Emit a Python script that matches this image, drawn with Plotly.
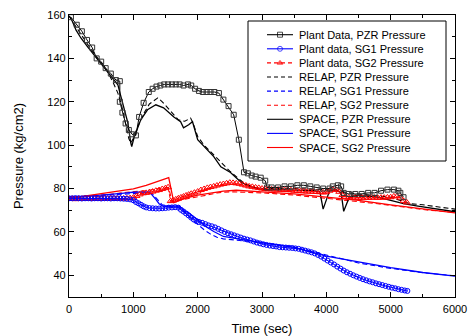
import plotly.graph_objects as go

# ---------------- data ----------------
plant_pzr_t = [30, 120, 200, 280, 360, 430, 500, 570, 650, 730, 790, 790, 830, 880, 930, 980, 1040,
               1090, 1160, 1240, 1300, 1360, 1420, 1480, 1540, 1600, 1660, 1720, 1780, 1850, 1900,
               1960, 2020, 2080, 2140, 2200, 2260, 2330, 2400, 2480, 2560, 2640, 2720, 2780, 2840,
               2900, 2980, 3050, 3080, 3150, 3250, 3350, 3450, 3550, 3650, 3750, 3850, 3950, 4050,
               4100, 4180, 4230, 4270, 4350, 4450, 4550, 4650, 4750, 4850, 4950, 5050, 5120, 5150, 5200]
plant_pzr_p = [159, 155.5, 152.5, 148.5, 145, 140, 138.5, 135.5, 133, 130, 129.5, 120, 115, 110, 107, 105, 104.5,
               113, 119.5, 124.5, 126, 127, 127.5, 128, 128, 128, 128, 128, 127.5, 128, 127.5,
               126, 125, 124.5, 124.5, 124.5, 124.5, 124, 121, 118, 114, 102.5, 87.5, 87, 86,
               85.5, 85, 83.6, 80.5, 80.5, 80.5, 81, 81, 81.5, 81.5, 81, 80.5, 80, 80,
               81, 81.5, 81, 78, 77.5, 77.5, 77.5, 78, 78, 79, 79.5, 79.5, 79, 78, 76]

plant_sg1_t = [0, 50, 100, 150, 200, 250, 300, 350, 400, 450, 500, 550, 600, 650, 700, 750, 800, 850, 900, 950,
               1000, 1040, 1080, 1120, 1160, 1200, 1250, 1300, 1350, 1400, 1450, 1500, 1550, 1600, 1650, 1700,
               1740, 1780, 1820, 1860, 1900, 1940, 1980, 2020, 2070, 2120, 2170, 2220, 2270, 2320, 2370, 2420,
               2470, 2520, 2570, 2620, 2670, 2720, 2770, 2820, 2870, 2920, 2970, 3020, 3070, 3120, 3170, 3220,
               3270, 3320, 3370, 3420, 3470, 3520, 3570, 3620, 3670, 3720, 3770, 3820, 3870, 3920, 3970, 4020,
               4070, 4120, 4170, 4220, 4270, 4320, 4370, 4420, 4470, 4520, 4570, 4620, 4670, 4720, 4770, 4820,
               4870, 4920, 4970, 5020, 5070, 5120, 5170, 5220, 5260]
plant_sg1_p = [75.5, 75.5, 75.6, 75.5, 75.4, 75.5, 75.5, 75.4, 75.5, 75.5, 75.4, 75.5, 75.5, 75.4, 75.5, 75.5, 75.4, 75.3, 75.2, 75.0,
               74.6, 73.8, 73.2, 72.5, 71.8, 71.3, 71.0, 70.9, 70.8, 70.8, 70.9, 71.0, 71.2, 71.3, 71.4, 71.2,
               70.2, 69.4, 68.5, 67.6, 66.6, 65.7, 65.0, 64.6, 64.2, 63.6, 63.0, 62.6, 62.1, 61.4, 60.7, 60.0,
               59.4, 58.9, 58.4, 57.9, 57.4, 56.9, 56.5, 56.1, 55.6, 55.1, 54.7, 54.3, 54.0, 53.7, 53.5, 53.3,
               53.0, 52.9, 52.8, 52.7, 52.6, 52.4, 52.2, 51.8, 51.4, 51.0, 50.6, 50.1, 49.4, 48.6, 47.7, 46.8,
               45.9, 45.0, 44.0, 43.1, 42.2, 41.4, 40.7, 40.0, 39.4, 38.8, 38.2, 37.7, 37.2, 36.8, 36.3, 35.9,
               35.5, 35.1, 34.7, 34.3, 34.0, 33.6, 33.3, 33.0, 32.8]

plant_sg2_t = [0, 50, 100, 150, 200, 250, 300, 350, 400, 450, 500, 550, 600, 650, 700, 750, 800, 850, 900, 950, 1000,
               1050, 1100, 1150, 1200, 1250, 1300, 1350, 1400, 1450, 1500, 1540, 1580, 1620, 1660, 1700, 1740,
               1780, 1820, 1860, 1900, 1950, 2000, 2050, 2100, 2150, 2200, 2250, 2300, 2350, 2400, 2450, 2500,
               2550, 2600, 2650, 2700, 2750, 2800, 2850, 2900, 2950, 3000, 3050, 3100, 3150, 3200, 3250, 3300,
               3350, 3400, 3450, 3500, 3550, 3600, 3650, 3700, 3750, 3800, 3850, 3900, 3950, 4000, 4050, 4100,
               4150, 4200, 4250, 4300, 4350, 4400, 4450, 4500, 4550, 4600, 4650, 4700, 4750, 4800, 4850, 4900,
               4950, 5000, 5050, 5100, 5150, 5200, 5250]
plant_sg2_p = [75.2, 75.3, 75.1, 75.3, 75.2, 75.4, 75.2, 75.3, 75.4, 75.2, 75.3, 75.4, 75.3, 75.5, 75.4, 75.3, 75.5, 75.4, 75.5, 75.6, 75.8,
               76.6, 77.3, 77.8, 78.0, 78.3, 78.6, 79.0, 79.3, 79.8, 80.2, 80.6, 74.2, 74.5, 75.0, 75.5, 75.9,
               76.3, 76.8, 77.2, 77.6, 78.1, 78.6, 79.3, 79.8, 80.3, 80.7, 81.0, 81.4, 81.8, 82.1, 82.4, 82.7,
               82.6, 82.4, 82.2, 81.8, 81.4, 81.0, 80.8, 80.5, 80.3, 80.0, 79.8, 79.7, 79.6, 79.5, 79.5, 79.4,
               79.4, 79.3, 79.2, 79.0, 78.9, 78.8, 78.7, 78.6, 78.6, 78.5, 78.4, 78.3, 78.2, 78.3, 79.0, 79.6,
               79.4, 78.5, 77.0, 76.2, 75.9, 75.8, 75.8, 75.7, 75.8, 75.8, 75.7, 75.8, 75.8, 75.7, 75.8, 75.8,
               75.9, 76.0, 76.4, 76.5, 75.8, 74.3, 73.6]

relap_pzr_t = [0, 100, 200, 300, 400, 500, 600, 700, 760, 820, 880, 930, 960, 1000, 1060, 1150, 1250, 1380,
               1450, 1530, 1620, 1700, 1800, 1890, 1930, 2000, 2100, 2200, 2300, 2400, 2500, 2600, 2700, 2800,
               2900, 3000, 3500, 4000, 4500, 5000, 5300, 5500, 5800, 6000]
relap_pzr_p = [159.5, 155, 150, 146, 142, 138, 134, 128, 124, 118, 110, 103, 101, 103, 108, 114, 119, 121.8,
               120, 117.2, 114, 111.7, 111, 112.5, 110, 104, 100, 97, 94, 91, 88, 85.5, 83, 81.5,
               80.5, 80, 80, 79.5, 77.5, 76, 73, 72.5, 71.5, 70.5]

relap_sg1_t = [0, 300, 600, 900, 1200, 1300, 1400, 1450, 1550, 1700, 1800, 1900, 2000, 2100, 2200, 2300, 2400,
               2500, 2600, 2700, 3000, 3500, 4000, 4500, 5000, 5500, 6000]
relap_sg1_p = [76, 76.5, 77, 77.8, 78, 77.5, 74, 72.5, 72, 71.5, 69, 66, 63.5, 61, 59, 57.5, 56.8,
               56.5, 56.3, 56, 55, 53, 49.2, 45.7, 43.2, 41.2, 39.8]

relap_sg2_t = [0, 300, 600, 900, 1200, 1400, 1550, 1600, 1700, 1850, 2000, 2150, 2300, 2500, 2700, 3000, 3500,
               4000, 4400, 4800, 5200, 5600, 6000]
relap_sg2_p = [75.5, 76.3, 77.2, 78.3, 79, 80, 80.5, 74, 74.5, 75.5, 76, 77, 78, 78.5, 78.3, 78, 77,
               75.5, 74, 73, 71.5, 70, 69]

space_pzr_t = [0, 30, 110, 185, 290, 390, 525, 650, 760, 800, 850, 915, 960, 975, 1010, 1115, 1220, 1350, 1470,
               1630, 1735, 1780, 1860, 1920, 2000, 2150, 2250, 2360, 2510, 2670, 2800, 2980, 3200, 3400, 3600,
               3800, 3900, 3950, 4050, 4150, 4230, 4270, 4350, 4450, 4600, 4800, 5000, 5200, 5400, 5600, 5800, 6000]
space_pzr_p = [159.5, 158.6, 153, 149.4, 145.3, 141.6, 137, 132.4, 127.8, 123.2, 117.7, 110.3, 101, 99.3, 103.4, 111.7, 116.3, 118.6, 117.2,
               113, 110.8, 108, 109.4, 110.8, 102.5, 98, 94.7, 90, 87.4, 83, 81, 79.7, 79.5, 79.5, 79.3,
               79, 78.5, 70.5, 79, 79.5, 78, 69.5, 75.5, 77, 76.5, 76, 74.5, 73, 72, 71, 70, 69.3]

space_sg1_t = [0, 300, 600, 900, 1000, 1250, 1300, 1350, 1400, 1450, 1500, 1600, 1700, 1750, 1800, 1850, 1950,
               2050, 2150, 2250, 2400, 2500, 2700, 3000, 3500, 4000, 4500, 5000, 5500, 6000]
space_sg1_p = [76, 76.5, 77.2, 78, 78.3, 78.5, 77, 75, 73, 72, 71.8, 72, 72, 71, 69.5, 69, 66.5,
               64.4, 62, 60.2, 57.9, 57.5, 56.5, 55.1, 52.9, 48.8, 46, 43.5, 41.3, 39.6]

space_sg2_t = [0, 300, 600, 900, 1000, 1200, 1400, 1550, 1630, 1800, 2000, 2200, 2400, 2600, 2800, 3000, 3500,
               4000, 4500, 5000, 5500, 6000]
space_sg2_p = [75.5, 76.8, 78, 79.3, 79.8, 81.5, 83.5, 85, 73.5, 75.5, 77, 78, 78.8, 79.2, 79, 78.5, 77.5,
               76, 74.5, 72.5, 70.5, 68.8]

legend_labels = ["Plant Data, PZR Pressure", "Plant data, SG1 Pressure", "Plant data, SG2 Pressure",
                 "RELAP, PZR Pressure", "RELAP, SG1 Pressure", "RELAP, SG2 Pressure",
                 "SPACE, PZR Pressure", "SPACE, SG1 Pressure", "SPACE, SG2 Pressure"]

x_ticks = [0, 1000, 2000, 3000, 4000, 5000, 6000]
y_ticks = [40, 60, 80, 100, 120, 140, 160]

# ---------------- styles ----------------
BLACK, BLUE, RED = "#000000", "#0000ff", "#ff0000"
FONT = "Liberation Sans, Arial, sans-serif"

styles = [
    dict(color=BLACK, dash="solid", symbol="square-open"),
    dict(color=BLUE, dash="solid", symbol="circle-open"),
    dict(color=RED, dash="dash", symbol="triangle-up"),
    dict(color=BLACK, dash="dash", symbol=None),
    dict(color=BLUE, dash="dash", symbol=None),
    dict(color=RED, dash="dash", symbol=None),
    dict(color=BLACK, dash="solid", symbol=None),
    dict(color=BLUE, dash="solid", symbol=None),
    dict(color=RED, dash="solid", symbol=None),
]

fig = go.Figure()

def line(t, p, color, dash, width=1.1):
    fig.add_trace(go.Scatter(x=t, y=p, mode="lines", showlegend=False,
                             line=dict(color=color, dash=dash, width=width)))

line(relap_pzr_t, relap_pzr_p, BLACK, "5px,3px")
line(relap_sg1_t, relap_sg1_p, BLUE, "5px,3px")
line(relap_sg2_t, relap_sg2_p, RED, "5px,3px")
line(space_pzr_t, space_pzr_p, BLACK, "solid", 1.3)
line(space_sg1_t, space_sg1_p, BLUE, "solid", 1.3)
line(space_sg2_t, space_sg2_p, RED, "solid", 1.3)

fig.add_trace(go.Scatter(x=plant_sg2_t, y=plant_sg2_p, mode="lines+markers", showlegend=False,
                         line=dict(color=RED, width=1, dash="4px,2px"),
                         marker=dict(symbol="triangle-up-open", size=6, color=RED, line=dict(width=1))))
fig.add_trace(go.Scatter(x=plant_sg1_t, y=plant_sg1_p, mode="lines+markers", showlegend=False,
                         line=dict(color=BLUE, width=1),
                         marker=dict(symbol="circle-open", size=5, color=BLUE, line=dict(width=1))))
fig.add_trace(go.Scatter(x=plant_pzr_t, y=plant_pzr_p, mode="lines+markers", showlegend=False,
                         line=dict(color=BLACK, width=1),
                         marker=dict(symbol="square-open", size=5, color="#333333", line=dict(width=1))))

# ---------------- custom legend (pixel overlay axes) ----------------
L, R, T, B = 69, 455, 15, 297
fig.add_shape(type="rect", xref="x2", yref="y2", x0=248, x1=446, y0=21, y1=161,
              line=dict(color=BLACK, width=1), fillcolor="white", layer="below")
row0, dy = 34.7, 14.1
for i, (lab, st) in enumerate(zip(legend_labels, styles)):
    y = row0 + dy * i
    dash = st["dash"] if st["dash"] == "solid" else "4px,3px"
    if st["symbol"]:
        fig.add_trace(go.Scatter(x=[267, 280, 293], y=[y, y, y], xaxis="x2", yaxis="y2",
                                 mode="lines+markers", showlegend=False, hoverinfo="skip",
                                 line=dict(color=st["color"], dash=dash, width=1.1),
                                 marker=dict(symbol=st["symbol"], size=[0, 5, 0], color=st["color"],
                                             line=dict(width=1, color=st["color"]))))
    else:
        fig.add_trace(go.Scatter(x=[267, 293], y=[y, y], xaxis="x2", yaxis="y2",
                                 mode="lines", showlegend=False, hoverinfo="skip",
                                 line=dict(color=st["color"], dash=dash, width=1.1)))
    fig.add_annotation(x=297, y=y, xref="x2", yref="y2", text=lab, showarrow=False,
                       xanchor="left", yanchor="middle", font=dict(family=FONT, size=11, color=BLACK))

axis_common = dict(showgrid=False, zeroline=False, showline=True, linecolor=BLACK, linewidth=1.3,
                   mirror="allticks", ticks="inside", ticklen=5, tickwidth=1, tickcolor=BLACK,
                   tickfont=dict(family=FONT, size=11, color=BLACK))

fig.update_layout(
    width=469, height=336,
    margin=dict(l=L, r=469 - R, t=T, b=336 - B, autoexpand=False),
    paper_bgcolor="white", plot_bgcolor="white",
    showlegend=False,
    xaxis=dict(range=[0, 6000], tickvals=x_ticks, ticktext=[str(v) for v in x_ticks],
               minor=dict(dtick=500, ticks="inside", ticklen=3, tickcolor=BLACK),
               ticklabelstandoff=2,
               title=dict(text="Time (sec)", font=dict(family=FONT, size=13, color=BLACK), standoff=10),
               **axis_common),
    yaxis=dict(range=[30, 160], tickvals=y_ticks, ticktext=[str(v) for v in y_ticks],
               minor=dict(dtick=10, ticks="inside", ticklen=3, tickcolor=BLACK),
               title=dict(text="Pressure (kg/cm2)", font=dict(family=FONT, size=13, color=BLACK), standoff=20),
               **axis_common),
    xaxis2=dict(range=[L, R], overlaying="x", visible=False, fixedrange=True),
    yaxis2=dict(range=[B, T], overlaying="y", visible=False, fixedrange=True),
)

fig.write_html("out.html", config={"displayModeBar": False},
               post_script="document.body.style.margin='0px';")
